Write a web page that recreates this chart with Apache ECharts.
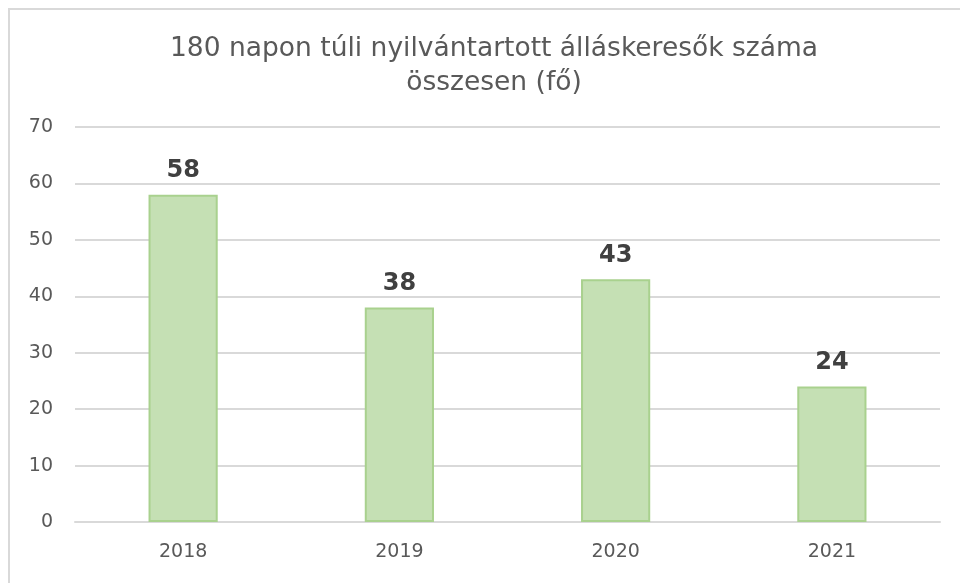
<!DOCTYPE html>
<html>
<head>
<meta charset="utf-8">
<script src="https://cdn.jsdelivr.net/npm/echarts@6/dist/echarts.min.js"></script>
<style>
html, body { margin: 0; padding: 0; background: #fff; overflow: hidden; }
#main { position: absolute; left: 0; top: 0; width: 960px; height: 583px; }
#frame { position: absolute; left: 8px; top: 8px; width: 1000px; height: 600px; border: 2px solid #d9d9d9; pointer-events: none; }
</style>
</head>
<body>
<div id="main"></div>
<div id="frame"></div>
<script>
// adatok
var chartTitle = '180 napon túli nyilvántartott álláskeresők száma\nösszesen (fő)';
var years = ['2018', '2019', '2020', '2021'];
var counts = [58, 38, 43, 24];
var yTicks = { min: 0, max: 70, step: 10 };

var myChart = echarts.init(document.getElementById('main'));

var option = {
    animation: false,
    title: {
        text: chartTitle,
        left: 489,
        textAlign: 'center',
        top: 27,
        textStyle: {
            fontFamily: 'DejaVu Sans',
            fontWeight: 'normal',
            fontSize: 26.5,
            color: '#595959',
            lineHeight: 34
        }
    },
    grid: {
        left: 75,
        right: 20,
        top: 127,
        bottom: 61
    },
    xAxis: {
        type: 'category',
        data: years,
        axisLine: { lineStyle: { color: '#d9d9d9', width: 2 } },
        axisTick: { show: false },
        axisLabel: {
            color: '#595959',
            fontFamily: 'DejaVu Sans',
            fontSize: 19,
            margin: 21
        }
    },
    yAxis: {
        type: 'value',
        min: yTicks.min,
        max: yTicks.max,
        interval: yTicks.step,
        axisLine: { show: false },
        axisTick: { show: false },
        axisLabel: {
            color: '#595959',
            fontFamily: 'DejaVu Sans',
            fontSize: 19,
            margin: 22
        },
        splitLine: { lineStyle: { color: '#d9d9d9', width: 2 } }
    },
    series: [
        {
            type: 'bar',
            data: counts,
            barWidth: '32%',
            itemStyle: {
                color: '#c5e0b4',
                borderColor: '#a9d18e',
                borderWidth: 2
            },
            label: {
                show: true,
                position: 'top',
                distance: 12,
                color: '#404040',
                fontFamily: 'DejaVu Sans',
                fontWeight: 'bold',
                fontSize: 24
            }
        }
    ]
};

myChart.setOption(option);
</script>
</body>
</html>
